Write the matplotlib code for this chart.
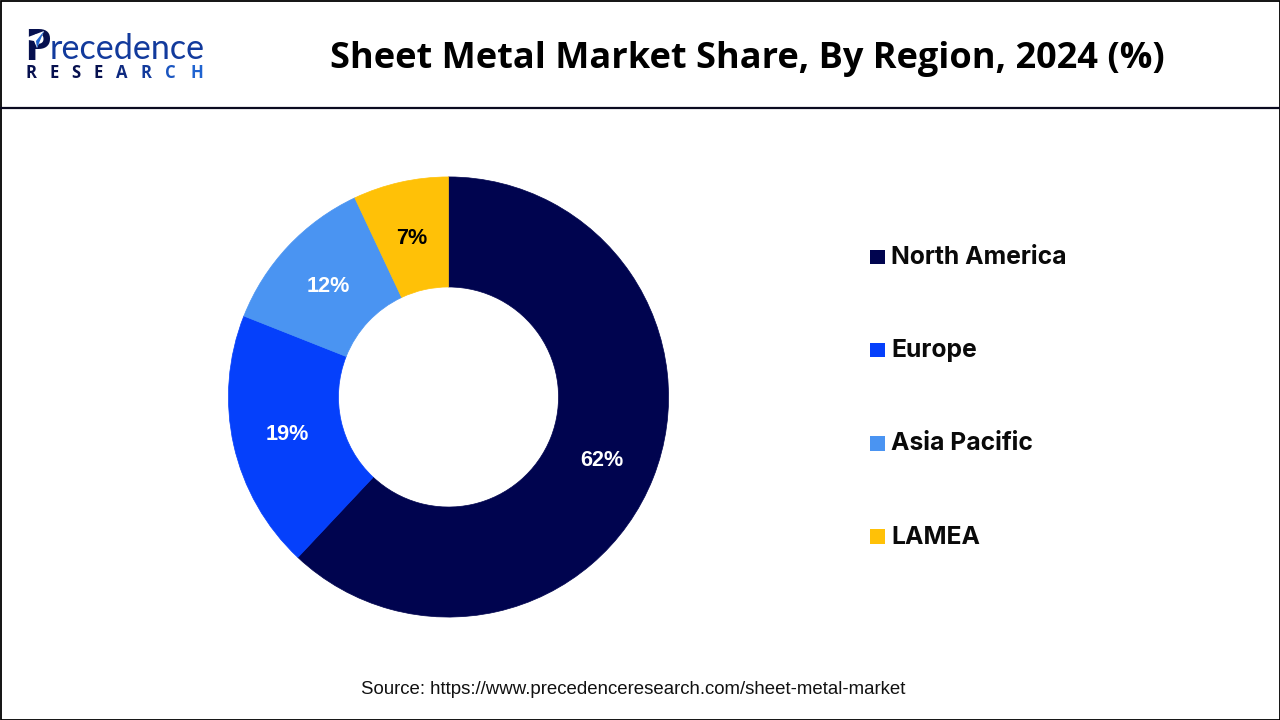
"""Sheet metal market share by region, donut chart."""
import matplotlib
matplotlib.use("Agg")
import matplotlib.pyplot as plt
from matplotlib.patches import Polygon, Rectangle

regions = ["North America", "Europe", "Asia Pacific", "LAMEA"]
shares = [62, 19, 12, 7]
share_labels = ["62%", "19%", "12%", "7%"]
colors = ["#00044f", "#0540fb", "#4a94f2", "#ffc107"]
label_colors = ["white", "white", "white", "black"]

title = "Sheet Metal Market Share, By Region, 2024 (%)"
source = "Source: https://www.precedenceresearch.com/sheet-metal-market"

W, H = 1280, 720


def main():
    fig = plt.figure(figsize=(W / 100, H / 100), dpi=100)
    bg = fig.add_axes([0, 0, 1, 1])
    bg.set_xlim(0, W)
    bg.set_ylim(H, 0)
    bg.axis("off")

    # frame and header rule
    bg.add_patch(Rectangle((0.5, 0.5), W - 1, H - 1, fill=False, ec="black", lw=1.3))
    bg.plot([0, W], [107.5, 107.5], color="#0a0a20", lw=1.6)

    # logo as text, with the little arrow over the P
    bg.text(24, 60, "P", fontsize=31, fontweight="bold", family="Open Sans", color="#06104f", va="baseline")
    bg.text(50, 59, "recedence", fontsize=24.6, family="Lato", color="#123a9c", va="baseline")
    for ch, x, c in zip("RESEARCH", [31, 54, 76, 98, 122, 146, 170, 197],
                        ["#06104f"] * 4 + ["#0e2a80", "#123a9c", "#1a55c0", "#1f63d0"]):
        bg.text(x, 78, ch, fontsize=12, fontweight="bold", family="Open Sans", color=c, ha="center", va="baseline")
    bg.add_patch(Polygon([(23, 39), (44, 31), (37, 48), (34, 41)], fc="white", ec="none", zorder=4))
    bg.add_patch(Polygon([(36, 41), (44, 31), (37, 48)], fc="#1f63d0", ec="none", zorder=5))

    bg.text(747.5, 59, title, fontsize=26, fontweight="bold", family="Open Sans", ha="center", va="center", color="black")
    bg.text(633.5, 690, source, fontsize=13.4, family="Liberation Sans", ha="center", va="center", color="#111111")

    # donut, centre at (448.5, 397), outer radius 220.5
    ax = fig.add_axes([(448.5 - 220.5) / W, 1 - (397 + 220.5) / H, 441 / W, 441 / H])
    wedges, _ = ax.pie(shares, colors=colors, startangle=90, counterclock=False,
                       radius=1, wedgeprops=dict(width=0.5, linewidth=0))
    # same-colour edge closes the thin seams between wedges
    for wedge, c in zip(wedges, colors):
        wedge.set_edgecolor(c)
        wedge.set_linewidth(0.5)
    ax.set_xlim(-1.002, 1.002)
    ax.set_ylim(-1.002, 1.002)

    label_pos = [(602, 460), (287, 435), (328, 286), (412, 238)]
    for txt, c, (x, y) in zip(share_labels, label_colors, label_pos):
        bg.text(x, y, txt, fontsize=15.6, fontweight="bold", family="Liberation Sans",
                color=c, ha="center", va="center", zorder=5)
    bg.set_zorder(2)
    bg.patch.set_alpha(0)

    # legend
    legend_y = [257, 350, 443.5, 536.5]
    for name, c, y in zip(regions, colors, legend_y):
        bg.add_patch(Rectangle((870, y - 7.25), 15, 14.5, fc=c, ec="none"))
        bg.text(891, y + 0.5, name, fontsize=17.8, fontweight="bold", family="Inter", va="center", color="#0a0a0a")

    fig.savefig("out.png", dpi=100, facecolor="white")


if __name__ == "__main__":
    main()
